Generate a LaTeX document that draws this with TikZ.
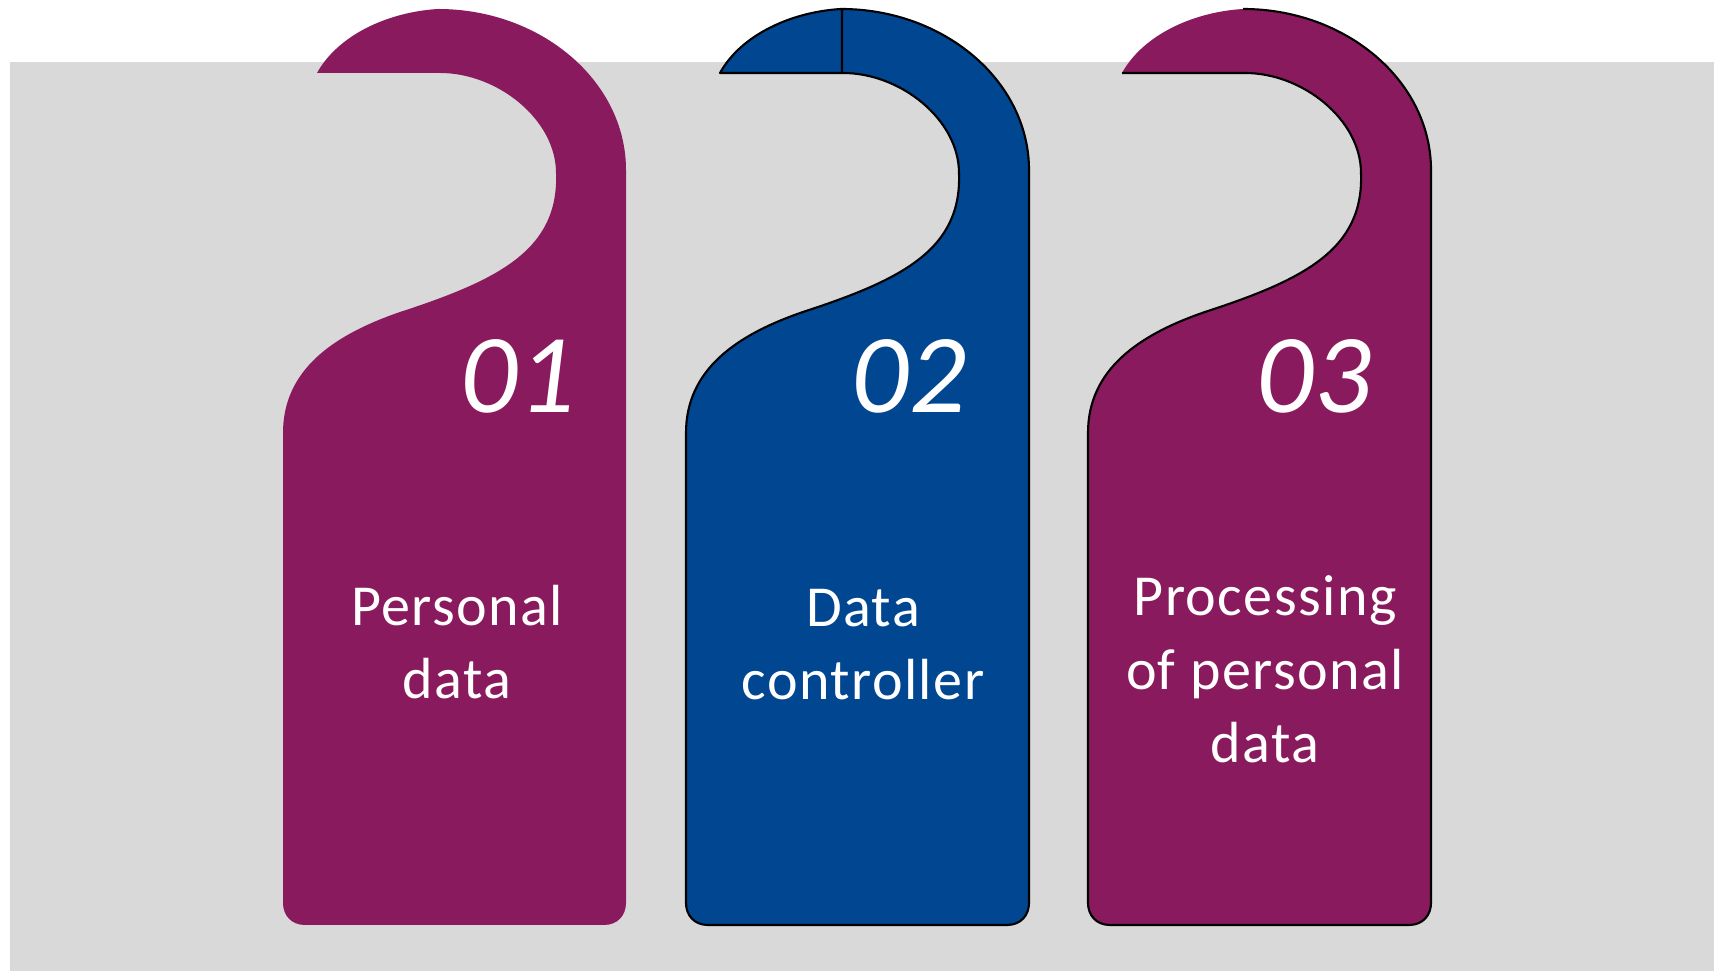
\documentclass[tikz,border=0pt]{standalone}
\usepackage{fontspec}
\setmainfont{Carlito}

\definecolor{tagPlum}{RGB}{138,26,94}
\definecolor{tagBlue}{RGB}{1,70,145}
\definecolor{bgGray}{RGB}{217,217,217}

\tikzset{
  tagnum/.style={font=\fontsize{32}{38}\selectfont\itshape, text=white, inner sep=0pt},
  taglabel/.style={font=\fontsize{16.5}{21}\selectfont\addfontfeature{LetterSpace=2.5},
    text=white, align=center, inner sep=0pt, anchor=base},
  tagline/.style={draw=black, line width=0.6pt, line join=round}
}

% hanger outline, split at the top of the hook
\newcommand{\hooktop}{(34,73) .. controls (55,35) and (105,12) .. (155,9)}
\newcommand{\hangerrest}{.. controls (258,9) and (343,81) .. (343,170)
  -- (343,903) .. controls (343,915) and (335,925) .. (321,925)
  -- (22,925) .. controls (8,925) and (0,915) .. (0,903)
  -- (0,433) .. controls (0,370) and (50,335) .. (117,312)
  .. controls (215,280) and (276,250) .. (273,173)
  .. controls (273,120) and (215,73) .. (157,73) -- (34,73)}

\begin{document}
\begin{tikzpicture}[x=0.01cm, y=-0.01cm]
\useasboundingbox (0,0) rectangle (1714,971);
\fill[bgGray] (10,62) rectangle (1714,971);

% the three door hangers
\fill[tagPlum, shift={(283,0)}] \hooktop \hangerrest -- cycle;
\filldraw[tagline, fill=tagBlue, shift={(686,0)}] \hooktop \hangerrest -- cycle
  (156,9) -- (156,73);
\fill[tagPlum, shift={(1088,0)}] \hooktop \hangerrest -- cycle;
\draw[tagline, shift={(1088,0)}] (155,9) \hangerrest;

\node[tagnum] (num1) at (518,376) {01};
\node[tagnum] (num2) at (909,376) {02};
\node[tagnum] (num3) at (1314,376) {03};

% base anchor sits on the last line
\node[taglabel] (lbl1) at (457,699) {Personal\\data};
\node[taglabel] (lbl2) at (863,700) {Data\\controller};
\node[taglabel] (lbl3) at (1265,763) {Processing\\of personal\\data};
\end{tikzpicture}
\end{document}
